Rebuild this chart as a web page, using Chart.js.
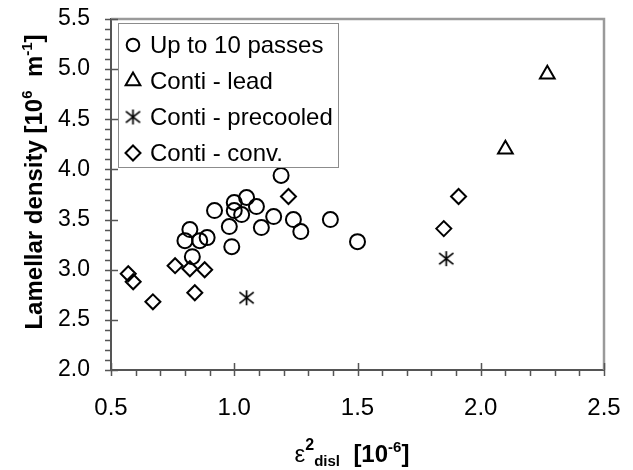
<!DOCTYPE html>
<html>
<head>
<meta charset="utf-8">
<script src="https://cdn.jsdelivr.net/npm/chart.js@4.4.1/dist/chart.umd.min.js"></script>
<style>
  html, body { margin: 0; padding: 0; background: #fff; }
  #wrap { width: 633px; height: 470px; }
</style>
</head>
<body>
<div id="wrap"><canvas id="chart" width="633" height="470"></canvas></div>
<script>
// values
const seriesNames = ['Up to 10 passes', 'Conti - lead', 'Conti - precooled', 'Conti - conv.'];

const passesX = [1.19, 0.92, 1.00, 1.05, 1.09, 1.00, 1.03, 1.16, 1.24, 1.39, 1.27, 1.11, 0.98, 0.99, 0.82, 0.80, 0.86, 0.89, 0.83, 1.50];
const passesY = [3.94, 3.59, 3.67, 3.72, 3.63, 3.59, 3.55, 3.53, 3.50, 3.50, 3.38, 3.42, 3.43, 3.23, 3.40, 3.29, 3.29, 3.32, 3.13, 3.28];

const leadX = [2.10, 2.27];
const leadY = [4.20, 4.95];

const precooledX = [1.05, 1.86];
const precooledY = [2.72, 3.11];

const convX = [0.57, 0.59, 0.67, 0.76, 0.82, 0.88, 0.84, 1.22, 1.85, 1.91];
const convY = [2.96, 2.88, 2.68, 3.04, 3.01, 3.00, 2.77, 3.73, 3.41, 3.73];

const xMin = 0.5, xMax = 2.5, xStep = 0.5;
const yMin = 2.0, yMax = 5.5, yStep = 0.5;

const FONT = '"Liberation Sans", Arial, sans-serif';

function toPoints(xs, ys) {
    return xs.map((x, i) => ({ x: x, y: ys[i] }));
}

// asterisk marker (vertical bar + X)
function makeAsterisk(size) {
    const c = document.createElement('canvas');
    c.width = size; c.height = size;
    const g = c.getContext('2d');
    const m = size / 2, r = size / 2 - 1;
    g.strokeStyle = '#000';
    g.lineWidth = 1.7;
    g.beginPath();
    g.moveTo(m, m - r); g.lineTo(m, m + r);
    g.moveTo(m - r * 0.95, m - r * 0.75); g.lineTo(m + r * 0.95, m + r * 0.75);
    g.moveTo(m - r * 0.95, m + r * 0.75); g.lineTo(m + r * 0.95, m - r * 0.75);
    g.stroke();
    return c;
}
const asterisk = makeAsterisk(17);

// draws a line of text made of runs with different fonts / baseline shifts, centred on x
function drawRuns(ctx, runs, cx, y) {
    let total = 0;
    runs.forEach(r => { ctx.font = r.font; r.w = ctx.measureText(r.t).width; total += r.w; });
    let x = cx - total / 2;
    ctx.textAlign = 'left';
    ctx.textBaseline = 'alphabetic';
    runs.forEach(r => {
        ctx.font = r.font;
        ctx.fillText(r.t, x, y + (r.dy || 0));
        x += r.w;
    });
}

const decorPlugin = {
    id: 'decor',
    afterDraw(chart) {
        const ctx = chart.ctx;
        const area = chart.chartArea;
        const xs = chart.scales.x, ys = chart.scales.y;
        ctx.save();

        // grey frame on top and right
        ctx.strokeStyle = '#9a9a9a';
        ctx.lineWidth = 2.5;
        ctx.beginPath();
        ctx.moveTo(area.left, area.top);
        ctx.lineTo(area.right, area.top);
        ctx.lineTo(area.right, area.bottom);
        ctx.stroke();

        // major / minor tick marks
        ctx.strokeStyle = '#555';
        ctx.lineWidth = 1.5;
        ctx.beginPath();
        for (let i = Math.round(xMin * 10); i <= Math.round(xMax * 10); i++) {
            const px = Math.round(xs.getPixelForValue(i / 10)) + 0.5;
            const major = i % 5 === 0;
            ctx.moveTo(px, area.bottom + 6);
            ctx.lineTo(px, major ? area.bottom - 7 : area.bottom);
        }
        for (let i = Math.round(yMin * 10); i <= Math.round(yMax * 10); i++) {
            const py = Math.round(ys.getPixelForValue(i / 10)) + 0.5;
            const major = i % 5 === 0;
            ctx.moveTo(area.left - 6, py);
            ctx.lineTo(major ? area.left + 7 : area.left, py);
        }
        ctx.stroke();

        // axis titles
        ctx.fillStyle = '#000';
        const B = 'bold 24px ' + FONT, Bs = 'bold 15px ' + FONT;
        drawRuns(ctx, [
            { t: '\u03b5', font: '24px ' + FONT },
            { t: '2', font: 'bold 16px ' + FONT, dy: -12 },
            { t: 'disl', font: Bs, dy: 4 },
            { t: '  [10', font: B },
            { t: '-6', font: Bs, dy: -10 },
            { t: ']', font: B }
        ], 352, 462);

        ctx.save();
        ctx.translate(42, 182);
        ctx.rotate(-Math.PI / 2);
        drawRuns(ctx, [
            { t: 'Lamellar density [10', font: B },
            { t: '6', font: Bs, dy: -10 },
            { t: '  m', font: B },
            { t: '-1', font: Bs, dy: -10 },
            { t: ']', font: B }
        ], 0, 0);
        ctx.restore();

        // legend box
        const lx = 118.5, ly = 23.5, lw = 220, lh = 144;
        ctx.fillStyle = '#fff';
        ctx.fillRect(lx, ly, lw, lh);
        ctx.strokeStyle = '#8c8c8c';
        ctx.lineWidth = 1;
        ctx.strokeRect(lx, ly, lw, lh);
        chart.data.datasets.forEach((ds, i) => {
            const cy = 45 + i * 36;
            const opts = {
                pointStyle: ds.pointStyle,
                radius: ds.pointStyle === 'circle' ? 6.3 : ds.pointRadius,
                borderWidth: 2
            };
            ctx.strokeStyle = '#000';
            ctx.fillStyle = 'rgba(0,0,0,0)';
            ctx.lineWidth = 2;
            Chart.helpers.drawPoint(ctx, opts, 133, cy);
            ctx.fillStyle = '#000';
            ctx.font = '24px ' + FONT;
            ctx.textAlign = 'left';
            ctx.textBaseline = 'middle';
            ctx.fillText(ds.label, 150, cy + 1);
        });
        ctx.restore();
    }
};

new Chart(document.getElementById('chart'), {
    type: 'scatter',
    data: {
        datasets: [
            { label: seriesNames[0], data: toPoints(passesX, passesY), pointStyle: 'circle', pointRadius: 7.5 },
            { label: seriesNames[1], data: toPoints(leadX, leadY), pointStyle: 'triangle', pointRadius: 8.5 },
            { label: seriesNames[2], data: toPoints(precooledX, precooledY), pointStyle: asterisk, pointRadius: 8 },
            { label: seriesNames[3], data: toPoints(convX, convY), pointStyle: 'rectRot', pointRadius: 7.5 }
        ].map(ds => Object.assign(ds, {
            borderColor: '#000',
            backgroundColor: 'rgba(0,0,0,0)',
            pointBorderWidth: 2,
            pointHoverRadius: ds.pointRadius,
            showLine: false
        }))
    },
    options: {
        responsive: false,
        animation: false,
        devicePixelRatio: 1,
        layout: { padding: { left: 0, top: 19, right: 29, bottom: 0 } },
        plugins: { legend: { display: false }, tooltip: { enabled: false } },
        scales: {
            x: {
                type: 'linear',
                min: xMin, max: xMax,
                ticks: {
                    stepSize: xStep,
                    color: '#000',
                    font: { family: FONT, size: 24 },
                    padding: 24,
                    maxRotation: 0,
                    callback: v => v.toFixed(1)
                },
                grid: { display: false, drawTicks: false },
                border: { display: true, color: '#555', width: 2 },
                afterFit: s => { s.height = 100; s.paddingLeft = 0; s.paddingRight = 0; }
            },
            y: {
                type: 'linear',
                min: yMin, max: yMax,
                ticks: {
                    stepSize: yStep,
                    color: '#000',
                    font: { family: FONT, size: 23 },
                    padding: 21,
                    callback: v => v.toFixed(1)
                },
                grid: { display: false, drawTicks: false },
                border: { display: true, color: '#555', width: 2 },
                afterFit: s => { s.width = 111; s.paddingTop = 0; s.paddingBottom = 0; }
            }
        }
    },
    plugins: [decorPlugin]
});
</script>
</body>
</html>
